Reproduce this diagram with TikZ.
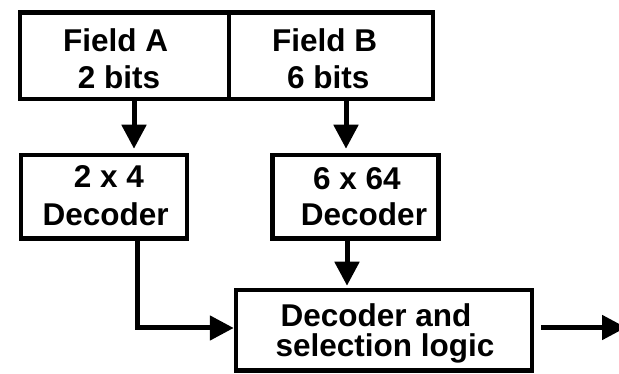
\documentclass[tikz,border=0pt]{standalone}
\usepackage{fontspec}
\setmainfont{Liberation Sans}
\usetikzlibrary{positioning, arrows.meta}

\tikzset{
  blk/.style={draw, line width=4.5pt, align=center, inner sep=0pt,
    font=\fontsize{31.5}{37.5}\selectfont\bfseries},
  link/.style={line width=5pt, -{Triangle[length=24pt,width=24pt]}},
}

\begin{document}
\begin{tikzpicture}[x=1pt, y=-1pt]
    \useasboundingbox (0,0) rectangle (619,374);

    % Instruction fields
    \node[blk, minimum width=209pt, minimum height=86.5pt] (fieldA) at (124.5,55.75)
      {\hspace*{-17.6pt}\rule{0pt}{28.5pt}Field A\\\hspace*{-11pt}2 bits};
    \node[blk, minimum width=204pt, minimum height=86.5pt] (fieldB) at (331,55.75)
      {\hspace*{-12.6pt}\rule{0pt}{28.5pt}Field B\\\hspace*{-5.4pt}6 bits};

    % Decoders
    \node[blk, minimum width=166pt, minimum height=83.5pt] (decA) at (104,196.75)
      {\hspace*{10pt}2 x 4\\\hspace*{3.4pt}Decoder\rule[-2.4pt]{0pt}{0pt}};
    \node[blk, minimum width=166pt, minimum height=83.5pt] (decB) at (355.5,196.75)
      {\hspace*{3pt}6 x 64\\[-1.5pt]\hspace*{17pt}Decoder};
    \node[blk, minimum width=296pt, minimum height=80.5pt, font=\fontsize{31.5}{30}\selectfont\bfseries] (logic) at (384,330.25)
      {\hspace*{-16pt}\rule{0pt}{29.5pt}Decoder and\\\hspace*{2pt}selection logic};
    \coordinate (out) at (626,333);

    % Connections
    \draw[link, shorten >=4pt] ([xshift=9.5pt]fieldA.south) -- ([xshift=9.5pt]fieldA.south |- decA.north);
    \draw[link, shorten >=4pt] ([xshift=15pt]fieldB.south) -- ([xshift=15pt]fieldB.south |- decB.north);
    \draw[link, shorten >=2pt] ([xshift=-8.5pt]decB.south) -- ([xshift=-8.5pt]decB.south |- logic.north);
    \draw[link] ([xshift=33.5pt]decA.south) |- ([yshift=2.25pt]logic.west);
    \draw[link, shorten <=7pt] ([yshift=2.75pt]logic.east) -- ([yshift=2.75pt]logic.east -| out);
\end{tikzpicture}
\end{document}
